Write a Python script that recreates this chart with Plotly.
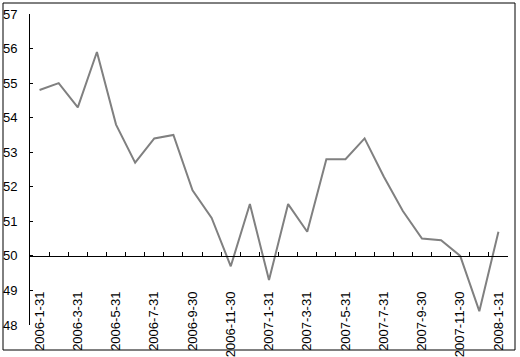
import plotly.graph_objects as go

dates = ["2006-1-31", "2006-2-28", "2006-3-31", "2006-4-30", "2006-5-31", "2006-6-30",
         "2006-7-31", "2006-8-31", "2006-9-30", "2006-10-31", "2006-11-30", "2006-12-31",
         "2007-1-31", "2007-2-28", "2007-3-31", "2007-4-30", "2007-5-31", "2007-6-30",
         "2007-7-31", "2007-8-31", "2007-9-30", "2007-10-31", "2007-11-30", "2007-12-31",
         "2008-1-31"]
values = [54.8, 55.0, 54.3, 55.9, 53.8, 52.7, 53.4, 53.5, 51.9, 51.1, 49.7, 51.5,
          49.3, 51.5, 50.7, 52.8, 52.8, 53.4, 52.3, 51.3, 50.5, 50.45, 50.0, 48.4, 50.7]

W, H = 520, 357
L, R, T, B = 30, 12, 14, 32
plot_h = H - T - B
y_min, y_max, y_cross = 48, 57, 50
cross_pos = (y_cross - y_min) / (y_max - y_min)

font = dict(family="Liberation Sans, Arial, sans-serif", size=13, color="black")

fig = go.Figure()
fig.add_trace(go.Scatter(x=dates, y=values, mode="lines",
                         line=dict(color="#808080", width=2), showlegend=False,
                         xaxis="x", yaxis="y"))
fig.add_trace(go.Scatter(x=dates, y=values, mode="lines", line=dict(width=0),
                         opacity=0, showlegend=False, hoverinfo="skip",
                         xaxis="x2", yaxis="y"))

label_px = 288
label_pos = (H - B - label_px) / plot_h

fig.update_layout(
    width=W, height=H,
    margin=dict(l=L, r=R, t=T, b=B, autoexpand=False),
    paper_bgcolor="white", plot_bgcolor="white",
    font=font,
    xaxis=dict(type="category", anchor="free", position=cross_pos,
               showline=True, linecolor="black", linewidth=1,
               ticks="inside", ticklen=4, tickcolor="black", tickwidth=1,
               tickson="boundaries", showticklabels=False, showgrid=False,
               zeroline=False, range=[-0.5, len(dates) - 0.5], automargin=False),
    xaxis2=dict(type="category", overlaying="x", anchor="free", position=label_pos,
                showline=False, ticks="", showgrid=False, zeroline=False,
                dtick=2, tickangle=-90, tickfont=font, automargin=False,
                range=[-0.5, len(dates) - 0.5]),
    yaxis=dict(range=[y_min, y_max], dtick=1, showline=True, linecolor="black",
               linewidth=1, ticks="inside", ticklen=3, tickcolor="black",
               showgrid=False, zeroline=False, tickfont=font, automargin=False,
               ticklabelstandoff=9),
    shapes=[dict(type="rect", xref="paper", yref="paper",
                 x0=(3 - L) / (W - L - R), x1=(515 - L) / (W - L - R),
                 y0=(H - B - 350) / plot_h, y1=(H - B - 3) / plot_h,
                 line=dict(color="black", width=1), fillcolor="rgba(0,0,0,0)")],
)

fig.write_html("out.html", config={"displayModeBar": False},
               post_script="document.body.style.margin='0';document.body.style.overflow='hidden';")
